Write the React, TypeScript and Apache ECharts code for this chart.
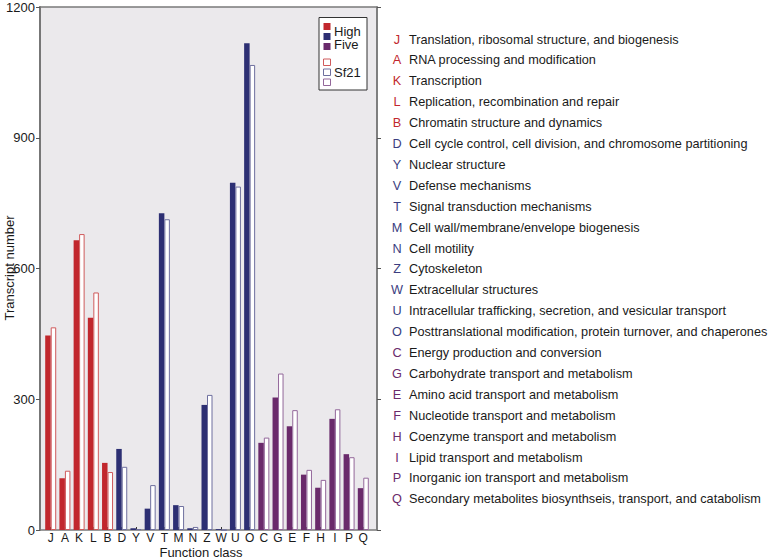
import React, { useEffect, useRef } from "react";
import * as echarts from "echarts";

const categories = ["J","A","K","L","B","D","Y","V","T","M","N","Z","W","U","O","C","G","E","F","H","I","P","Q"];
const groups = [0,0,0,0,0,1,1,1,1,1,1,1,1,1,1,2,2,2,2,2,2,2,2];
const highValues = [446,119,665,487,154,186,4,49,727,57,4,287,2,797,1117,200,304,238,127,97,255,174,96];
const sf21Values = [465,136,679,545,133,145,2,103,713,55,7,310,0,788,1067,212,359,275,138,115,277,167,120];
const descriptions = [
  "Translation, ribosomal structure, and biogenesis",
  "RNA processing and modification",
  "Transcription",
  "Replication, recombination and repair",
  "Chromatin structure and dynamics",
  "Cell cycle control, cell division, and chromosome partitioning",
  "Nuclear structure",
  "Defense mechanisms",
  "Signal transduction mechanisms",
  "Cell wall/membrane/envelope biogenesis",
  "Cell motility",
  "Cytoskeleton",
  "Extracellular structures",
  "Intracellular trafficking, secretion, and vesicular transport",
  "Posttranslational modification, protein turnover, and chaperones",
  "Energy production and conversion",
  "Carbohydrate transport and metabolism",
  "Amino acid transport and metabolism",
  "Nucleotide transport and metabolism",
  "Coenzyme transport and metabolism",
  "Lipid transport and metabolism",
  "Inorganic ion transport and metabolism",
  "Secondary metabolites biosynthseis, transport, and catabolism",
];
const yTicks = [0, 300, 600, 900, 1200];

const fillColors = ["#c1272d", "#2d2f73", "#6a2a6b"];
const outlineColors = ["#cf5a5c", "#6e6f9e", "#93679a"];
const letterColors = ["#c1272d", "#3b3d80", "#6a2a6b"];
const FONT = "'Liberation Sans', Arial, sans-serif";

export default function App() {
  const ref = useRef<HTMLDivElement>(null);
  useEffect(() => {
    if (!ref.current) return;
    const chart = echarts.init(ref.current, null, { renderer: "svg" });

    const graphics: any[] = [];
    categories.forEach((c, i) => {
      const y = 39.5 + 20.9 * i;
      graphics.push({
        type: "text", x: 397, y,
        style: { text: c, fill: letterColors[groups[i]], font: `12.7px ${FONT}`, textAlign: "center", textVerticalAlign: "middle" },
      });
      graphics.push({
        type: "text", x: 409, y,
        style: { text: descriptions[i], fill: "#1a1a1a", font: `12.7px ${FONT}`, textAlign: "left", textVerticalAlign: "middle" },
      });
    });
    graphics.push({
      type: "text", x: 9, y: 268, rotation: Math.PI / 2,
      style: { text: "Transcript number", fill: "#1a1a1a", font: `13px ${FONT}`, textAlign: "center", textVerticalAlign: "middle" },
    });
    graphics.push({
      type: "text", x: 201, y: 552,
      style: { text: "Function class", fill: "#1a1a1a", font: `13px ${FONT}`, textAlign: "center", textVerticalAlign: "middle" },
    });
    graphics.push({
      type: "rect", shape: { x: 319, y: 17.5, width: 48, height: 72.5 },
      style: { fill: "#ffffff", stroke: "#333", lineWidth: 1 },
    });
    [0, 1, 2].forEach((g) => {
      graphics.push({
        type: "rect", shape: { x: 323.5, y: 23 + 10 * g, width: 7, height: 7 },
        style: { fill: fillColors[g] },
      });
      graphics.push({
        type: "rect", shape: { x: 323.5, y: 59 + 10 * g, width: 7, height: 6.5 },
        style: { fill: "#fff", stroke: outlineColors[g], lineWidth: 1 },
      });
    });
    graphics.push({ type: "text", x: 334, y: 31, style: { text: "High", fill: "#1a1a1a", font: `13px ${FONT}`, textVerticalAlign: "middle" } });
    graphics.push({ type: "text", x: 334, y: 44.5, style: { text: "Five", fill: "#1a1a1a", font: `13px ${FONT}`, textVerticalAlign: "middle" } });
    graphics.push({ type: "text", x: 334, y: 72.5, style: { text: "Sf21", fill: "#1a1a1a", font: `13px ${FONT}`, textVerticalAlign: "middle" } });

    chart.setOption({
      animation: false,
      backgroundColor: "#ffffff",
      grid: [
        { left: 40, top: 7, width: 337, height: 523, show: true, backgroundColor: "#ebe9ec", borderColor: "#7a7a7a", borderWidth: 1.5 },
        { left: 43.6, top: 7, width: 326.8, height: 523 },
      ],
      xAxis: [
        { type: "category", gridIndex: 0, data: categories, show: false },
        {
          type: "category", gridIndex: 1, data: categories,
          axisLine: { show: false },
          axisTick: { show: true, inside: true, alignWithLabel: true, length: 3, lineStyle: { color: "#333" } },
          axisLabel: { color: "#1a1a1a", fontSize: 12, lineHeight: 12, fontFamily: FONT, margin: 2, interval: 0 },
        },
      ],
      yAxis: [
        {
          type: "value", gridIndex: 0, min: 0, max: 1200, interval: 300, position: "left",
          axisLine: { show: true, lineStyle: { color: "#777", width: 2 } },
          axisTick: { show: true, length: 4, lineStyle: { color: "#555" } },
          axisLabel: { color: "#1a1a1a", fontSize: 13, fontFamily: FONT, margin: 5,
            formatter: (v: number) => (yTicks.includes(v) ? String(v) : "") },
          splitLine: { show: false },
        },
        {
          type: "value", gridIndex: 0, min: 0, max: 1200, interval: 300, position: "right",
          axisLine: { show: true, lineStyle: { color: "#777", width: 1.5 } },
          axisTick: { show: true, length: 4, lineStyle: { color: "#555" } },
          axisLabel: { show: false },
          splitLine: { show: false },
        },
        { type: "value", gridIndex: 1, min: 0, max: 1200, show: false, splitLine: { show: false } },
      ],
      series: [
        {
          name: "High", type: "bar", xAxisIndex: 1, yAxisIndex: 2,
          barWidth: 5.5, barGap: "0%",
          data: highValues.map((v, i) => ({ value: v, itemStyle: { color: fillColors[groups[i]] } })),
        },
        {
          name: "Sf21", type: "bar", xAxisIndex: 1, yAxisIndex: 2,
          barWidth: 5.5, barGap: "0%",
          data: sf21Values.map((v, i) => ({
            value: v,
            itemStyle: { color: "#ffffff", borderColor: outlineColors[groups[i]], borderWidth: 1 },
          })),
        },
      ],
      graphic: graphics,
    });
    return () => chart.dispose();
  }, []);
  return <div ref={ref} style={{ position: "absolute", left: 0, top: 0, width: 778, height: 559 }} />;
}
